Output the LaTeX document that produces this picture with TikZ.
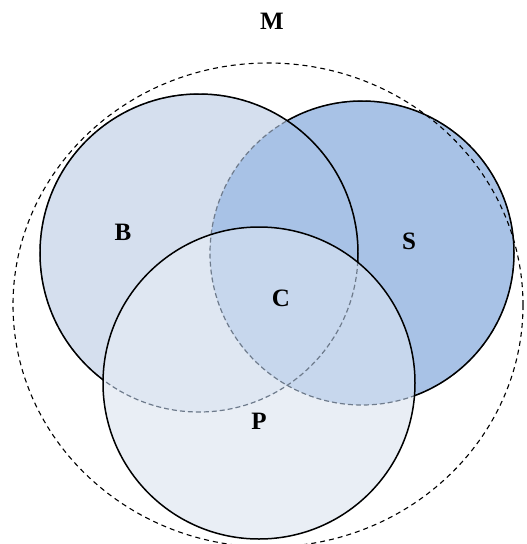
\documentclass[tikz,border=0pt]{standalone}
\usepackage{fontspec}
\setmainfont{Liberation Serif}
\definecolor{vennink}{HTML}{000000}
\definecolor{vennhidden}{HTML}{6E7B8C}
\definecolor{vennbase}{HTML}{E7EDF5}
\definecolor{vennB}{HTML}{D5DFEE}
\definecolor{vennS}{HTML}{A8C2E6}
\definecolor{vennP}{HTML}{EDF1F7}

\begin{document}
\begin{tikzpicture}[
  x=1pt,
  y=-1pt,
  every node/.style={font=\fontsize{25}{28}\selectfont\bfseries},
  outline/.style={vennink, line width=1.5pt},
  hidden/.style={vennhidden, line width=1.2pt, dash pattern=on 5pt off 3pt}
]
  \useasboundingbox (0,0) rectangle (527,544);
  \def\circB{(199,253) circle (159)}
  \def\circS{(362,253) circle (152)}
  \def\circP{(259,383) circle (156)}
  \def\sheet{(0,0) rectangle (527,544)}

  % fills
  \path[fill=vennbase] \circP;
  \path[fill=vennB] \circB;
  \path[fill=vennS] \circS;
  \path[fill=vennP, fill opacity=0.45] \circP;

  % hidden arcs
  \draw[hidden] \circB;
  \draw[hidden] \circS;

  % visible outlines
  \begin{scope}[even odd rule]
    \clip \sheet \circP;
    \draw[outline] \circB;
  \end{scope}
  \begin{scope}[even odd rule]
    \clip \sheet \circB;
    \clip \sheet \circP;
    \draw[outline] \circS;
  \end{scope}
  \draw[outline] \circP;

  \draw[vennink, line width=1.1pt, dash pattern=on 5pt off 4pt] (268,305) ellipse [x radius=255, y radius=242];

  \node (M) at (272,21) {M};
  \node (B) at (123,232) {B};
  \node (S) at (409,241) {S};
  \node (C) at (281,298) {C};
  \node (P) at (259,421) {P};
\end{tikzpicture}
\end{document}
